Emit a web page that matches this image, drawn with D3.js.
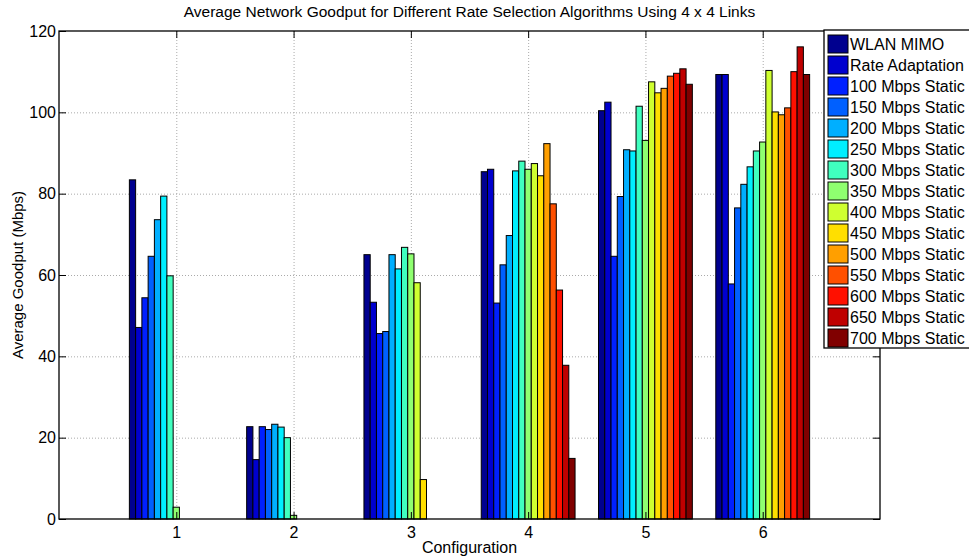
<!DOCTYPE html>
<html>
<head>
<meta charset="utf-8">
<script src="https://cdn.jsdelivr.net/npm/d3@7"></script>
<style>
  body { margin: 0; background: #fff; }
  text { font-family: "Liberation Sans", Arial, sans-serif; fill: #000; }
</style>
</head>
<body>
<svg width="969" height="557"></svg>
<script>
// series names (legend order)
const seriesNames = ["WLAN MIMO", "Rate Adaptation", "100 Mbps Static", "150 Mbps Static",
    "200 Mbps Static", "250 Mbps Static", "300 Mbps Static", "350 Mbps Static",
    "400 Mbps Static", "450 Mbps Static", "500 Mbps Static", "550 Mbps Static",
    "600 Mbps Static", "650 Mbps Static", "700 Mbps Static"];

// goodput (Mbps) per configuration, one value per series
const conf1 = [83.4, 47.1, 54.4, 64.6, 73.6, 79.4, 59.8, 2.9, 0, 0, 0, 0, 0, 0, 0];
const conf2 = [22.7, 14.6, 22.7, 22.0, 23.3, 22.6, 20.0, 0.9, 0, 0, 0, 0, 0, 0, 0];
const conf3 = [65.0, 53.3, 45.6, 46.1, 65.0, 61.5, 66.8, 65.2, 58.1, 9.7, 0, 0, 0, 0, 0];
const conf4 = [85.4, 86.0, 53.1, 62.5, 69.7, 85.6, 88.0, 86.0, 87.4, 84.4, 92.3, 77.5, 56.3, 37.8, 14.9];
const conf5 = [100.4, 102.5, 64.6, 79.3, 90.8, 90.5, 101.5, 93.1, 107.5, 104.8, 105.9, 108.9, 109.6, 110.7, 106.9];
const conf6 = [109.3, 109.3, 57.8, 76.5, 82.3, 86.6, 90.5, 92.7, 110.3, 100.1, 99.4, 101.1, 110.0, 116.1, 109.3];

const configs = [1, 2, 3, 4, 5, 6];
const yTicks = [0, 20, 40, 60, 80, 100, 120];

// jet colormap as sampled by matlab for 15 series
const colors = ["#00008f", "#0000cf", "#0020ff", "#0060ff", "#00afff", "#00efff", "#40ffbf",
    "#8fff70", "#cfff30", "#ffdf00", "#ff9f00", "#ff5000", "#ff1000", "#bf0000", "#800000"];

const svg = d3.select("svg");
const margin = {top: 31, right: 89, bottom: 38, left: 59};
const W = +svg.attr("width"), H = +svg.attr("height");

const x = d3.scaleLinear().domain([0, 7]).range([margin.left, W - margin.right]);
const y = d3.scaleLinear().domain([0, 120]).range([H - margin.bottom, margin.top]);

const rows = [conf1, conf2, conf3, conf4, conf5, conf6];
const groupWidth = 0.8, n = seriesNames.length;
const bw = groupWidth / n;

// grid
const grid = svg.append("g")
    .attr("stroke", "#aaa")
    .attr("stroke-dasharray", "1,2")
    .attr("stroke-width", 1);
grid.selectAll(".gx").data(configs).enter().append("line")
    .attr("x1", d => x(d) + 0.5).attr("x2", d => x(d) + 0.5)
    .attr("y1", y(120)).attr("y2", y(0));
grid.selectAll(".gy").data(yTicks.slice(1, -1)).enter().append("line")
    .attr("x1", x(0)).attr("x2", x(7))
    .attr("y1", d => y(d) + 0.5).attr("y2", d => y(d) + 0.5);

// bars
const bars = [];
rows.forEach((vals, c) => {
    vals.forEach((v, i) => bars.push({conf: configs[c], i: i, v: v}));
});

svg.append("g").selectAll("rect")
    .data(bars)
    .enter().append("rect")
    .attr("x", d => x(d.conf - groupWidth / 2 + d.i * bw))
    .attr("width", x(bw) - x(0))
    .attr("y", d => y(d.v))
    .attr("height", d => y(0) - y(d.v))
    .attr("fill", d => colors[d.i])
    .attr("stroke", "#000")
    .attr("stroke-width", 1);

// axes (matlab style: ticks inside)
const xAxis = svg.append("g")
    .attr("transform", `translate(0,${y(0)})`)
    .call(d3.axisBottom(x).tickValues(configs).tickSize(-7).tickPadding(8).tickFormat(d3.format("d")));
const yAxis = svg.append("g")
    .attr("transform", `translate(${x(0)},0)`)
    .call(d3.axisLeft(y).tickValues(yTicks).tickSize(-7).tickPadding(3));
svg.append("g")
    .attr("transform", `translate(0,${y(120)})`)
    .call(d3.axisTop(x).tickValues(configs).tickSize(-7).tickFormat(""));
svg.append("g")
    .attr("transform", `translate(${x(7)},0)`)
    .call(d3.axisRight(y).tickValues(yTicks).tickSize(-7).tickFormat(""));

svg.selectAll(".domain").remove();
svg.selectAll(".tick line").attr("stroke", "#000");
[xAxis, yAxis].forEach(a => a.selectAll("text")
    .style("font-family", "'Liberation Sans', Arial, sans-serif")
    .style("font-size", "16px"));

// box
svg.append("rect")
    .attr("x", x(0)).attr("y", y(120))
    .attr("width", x(7) - x(0)).attr("height", y(0) - y(120))
    .attr("fill", "none").attr("stroke", "#000").attr("stroke-width", 1.3);

// labels
svg.append("text")
    .attr("x", (x(0) + x(7)) / 2).attr("y", 17)
    .attr("text-anchor", "middle")
    .style("font-size", "15.5px")
    .text("Average Network Goodput for Different Rate Selection Algorithms Using 4 x 4 Links");
svg.append("text")
    .attr("x", (x(0) + x(7)) / 2).attr("y", 553)
    .attr("text-anchor", "middle")
    .style("font-size", "16px")
    .text("Configuration");
svg.append("text")
    .attr("transform", `translate(23,${(y(0) + y(120)) / 2}) rotate(-90)`)
    .attr("text-anchor", "middle")
    .style("font-size", "15px")
    .text("Average Goodput (Mbps)");

// legend
const legend = svg.append("g").attr("transform", "translate(824,30)");
legend.append("rect")
    .attr("width", 150).attr("height", 318)
    .attr("fill", "#fff").attr("stroke", "#000").attr("stroke-width", 1.3);
const item = legend.selectAll(".item").data(seriesNames).enter().append("g")
    .attr("transform", (d, i) => `translate(4,${5 + i * 21})`);
item.append("rect")
    .attr("width", 20).attr("height", 18)
    .attr("fill", (d, i) => colors[i])
    .attr("stroke", "#000");
item.append("text")
    .attr("x", 22).attr("y", 15)
    .style("font-size", "16px")
    .text(d => d);
</script>
</body>
</html>
